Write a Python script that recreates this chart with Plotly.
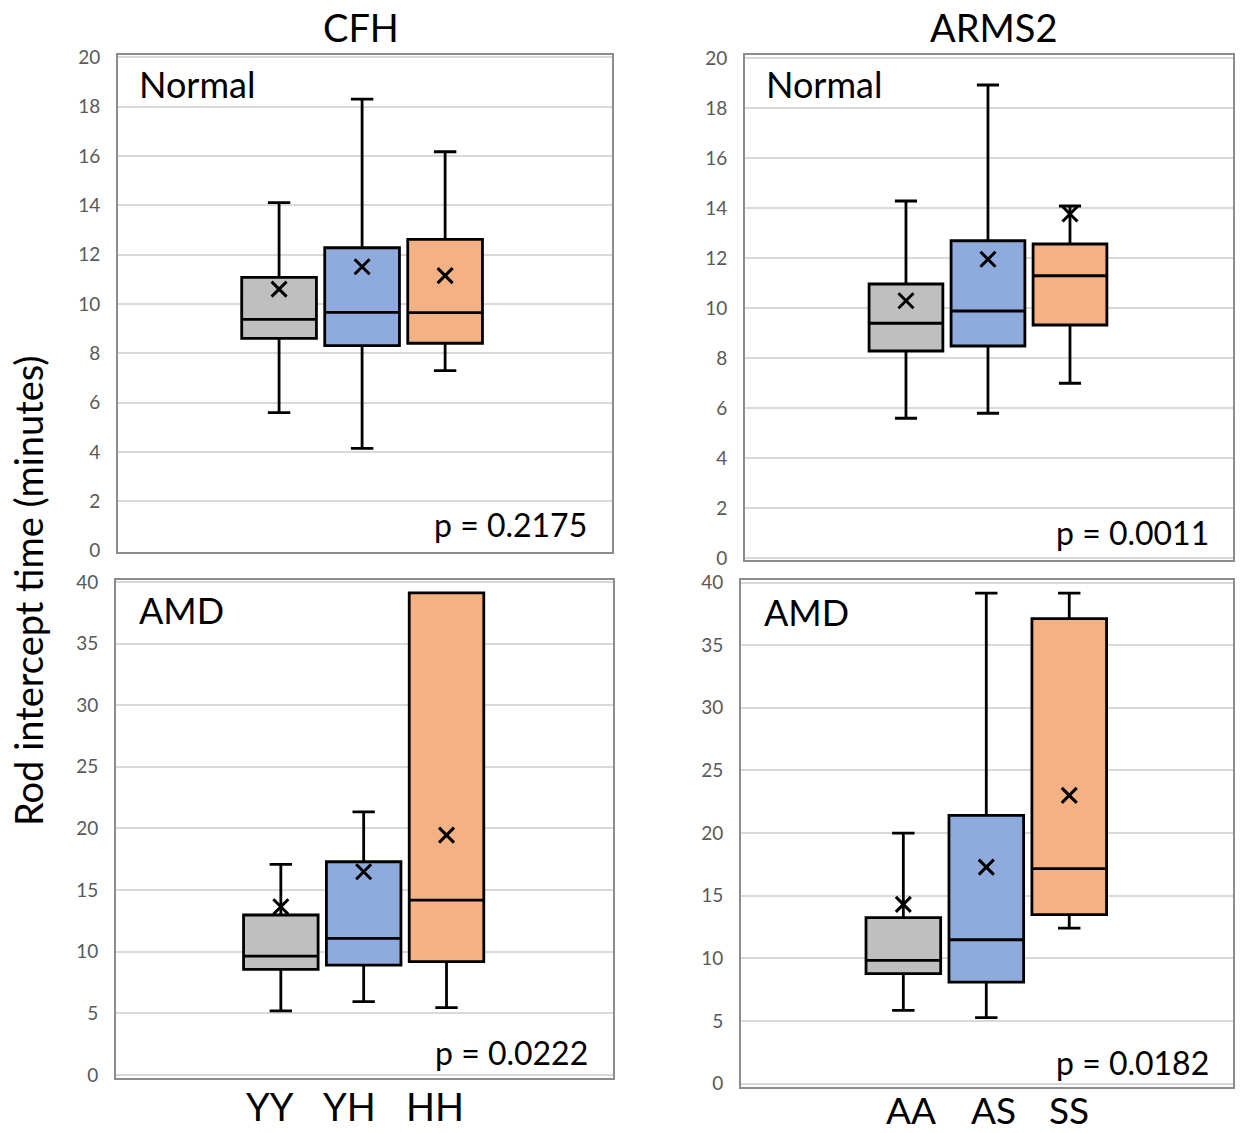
import plotly.graph_objects as go

# ---------------- data ----------------
cfh_groups = ["YY", "YH", "HH"]
arms2_groups = ["AA", "AS", "SS"]
box_colors = ["#BFBFBF", "#8FAADC", "#F4B183"]

# CFH - Normal
cfh_normal_low = [5.6, 4.15, 7.3]
cfh_normal_q1 = [8.61, 8.31, 8.41]
cfh_normal_median = [9.38, 9.66, 9.65]
cfh_normal_q3 = [11.08, 12.28, 12.62]
cfh_normal_high = [14.11, 18.3, 16.17]
cfh_normal_mean = [10.6, 11.51, 11.15]

# ARMS2 - Normal
arms2_normal_low = [5.6, 5.8, 7.0]
arms2_normal_q1 = [8.29, 8.49, 9.33]
arms2_normal_median = [9.4, 9.89, 11.3]
arms2_normal_q3 = [10.97, 12.7, 12.57]
arms2_normal_high = [14.29, 18.93, 14.09]
arms2_normal_mean = [10.3, 11.96, 13.77]

# CFH - AMD
cfh_amd_low = [5.21, 5.95, 5.46]
cfh_amd_q1 = [8.57, 8.92, 9.19]
cfh_amd_median = [9.65, 11.09, 14.19]
cfh_amd_q3 = [12.98, 17.3, 39.1]
cfh_amd_high = [17.09, 21.35, 39.1]
cfh_amd_mean = [13.65, 16.49, 19.46]

# ARMS2 - AMD
arms2_amd_low = [5.85, 5.27, 12.42]
arms2_amd_q1 = [8.78, 8.11, 13.49]
arms2_amd_median = [9.84, 11.49, 17.16]
arms2_amd_q3 = [13.25, 21.41, 37.11]
arms2_amd_high = [20.0, 39.15, 39.15]
arms2_amd_mean = [14.31, 17.29, 23.01]

p_values = ["p = 0.2175", "p = 0.0011", "p = 0.0222", "p = 0.0182"]
panel_titles = ["CFH", "ARMS2"]
row_labels = ["Normal", "Normal", "AMD", "AMD"]
y_title = "Rod intercept time (minutes)"

# ---------------- figure ----------------
W, H = 1241, 1133
FONT = "Lato"


def px(x):
    return x / W


def py(y):
    return 1 - y / H


fig = go.Figure()

panels = [
    ("x", "y", cfh_normal_low, cfh_normal_q1, cfh_normal_median, cfh_normal_q3, cfh_normal_high, cfh_normal_mean),
    ("x2", "y2", arms2_normal_low, arms2_normal_q1, arms2_normal_median, arms2_normal_q3, arms2_normal_high, arms2_normal_mean),
    ("x3", "y3", cfh_amd_low, cfh_amd_q1, cfh_amd_median, cfh_amd_q3, cfh_amd_high, cfh_amd_mean),
    ("x4", "y4", arms2_amd_low, arms2_amd_q1, arms2_amd_median, arms2_amd_q3, arms2_amd_high, arms2_amd_mean),
]

for xa, ya, lo, q1, med, q3, hi, mean in panels:
    for i in range(3):
        fig.add_trace(go.Box(
            x=[i], q1=[q1[i]], median=[med[i]], q3=[q3[i]],
            lowerfence=[lo[i]], upperfence=[hi[i]],
            fillcolor=box_colors[i],
            line=dict(color="black", width=2.8),
            width=0.9, whiskerwidth=0.3,
            boxpoints=False, showlegend=False, hoverinfo="skip",
            xaxis=xa, yaxis=ya,
        ))
    fig.add_trace(go.Scatter(
        x=[0, 1, 2], y=mean, mode="markers",
        marker=dict(symbol="x-thin", size=15, color="black",
                    line=dict(width=3, color="black")),
        showlegend=False, hoverinfo="skip", xaxis=xa, yaxis=ya,
    ))

axis_common = dict(showline=True, mirror=True, linecolor="#8c8c8c", linewidth=2,
                   automargin=False)
y_common = dict(axis_common, showgrid=True, gridcolor="#d9d9d9", gridwidth=2,
                zeroline=False, ticks="", ticklabelstandoff=12,
                tickfont=dict(family=FONT, size=19, color="#595959"))
x_common = dict(axis_common, showgrid=False, zeroline=False, showticklabels=False, ticks="")

fig.update_layout(
    width=W, height=H,
    margin=dict(l=0, r=0, t=0, b=0, autoexpand=False),
    paper_bgcolor="white", plot_bgcolor="white",
    boxmode="overlay",
    xaxis=dict(x_common, domain=[px(118), px(612)], range=[-1.94, 4.01], anchor="y"),
    yaxis=dict(y_common, domain=[py(551.5), py(55)], range=[-0.03, 20.09], dtick=2, anchor="x"),
    xaxis2=dict(x_common, domain=[px(745), px(1233)], range=[-1.963, 3.988], anchor="y2"),
    yaxis2=dict(y_common, domain=[py(560), py(55)], range=[-0.07, 20.13], dtick=2, anchor="x2"),
    xaxis3=dict(x_common, domain=[px(116), px(613)], range=[-1.99, 4.01], anchor="y3"),
    yaxis3=dict(y_common, domain=[py(1077.5), py(580)], range=[-0.2, 40.15], dtick=5, anchor="x3"),
    xaxis4=dict(x_common, domain=[px(741), px(1233)], range=[-1.957, 3.974], anchor="y4"),
    yaxis4=dict(y_common, domain=[py(1087), py(580)], range=[-0.26, 40.2], dtick=5, anchor="x4"),
)

ann = []
# Column titles
ann.append(dict(text=panel_titles[0], x=px(361), y=py(27), size=38))
ann.append(dict(text=panel_titles[1], x=px(993), y=py(27), size=38))
# Row labels
for lab, x, y in zip(row_labels, [137, 764, 137, 762], [84, 84, 610, 612]):
    ann.append(dict(text=lab, x=px(x), y=py(y), size=36, xanchor="left"))
# p-values
for p, x, y in zip(p_values, [589, 1211, 590, 1211], [525, 532, 1052, 1062]):
    ann.append(dict(text=p, x=px(x), y=py(y), size=32, xanchor="right"))
# Genotype labels under bottom panels
for lab, x in zip(cfh_groups, [270, 349, 435]):
    ann.append(dict(text=lab, x=px(x), y=py(1106), size=38))
for lab, x in zip(arms2_groups, [911, 993, 1069]):
    ann.append(dict(text=lab, x=px(x), y=py(1109), size=37))

for a in ann:
    fig.add_annotation(
        text=a["text"], x=a["x"], y=a["y"], xref="paper", yref="paper",
        xanchor=a.get("xanchor", "center"), yanchor="middle", showarrow=False,
        font=dict(family=FONT, size=a["size"], color="black"),
    )

fig.add_annotation(
    text=y_title, x=px(28), y=py(591), xref="paper", yref="paper",
    xanchor="center", yanchor="middle", showarrow=False, textangle=-90,
    font=dict(family=FONT, size=38, color="black"),
)

fig.write_html("out.html")
